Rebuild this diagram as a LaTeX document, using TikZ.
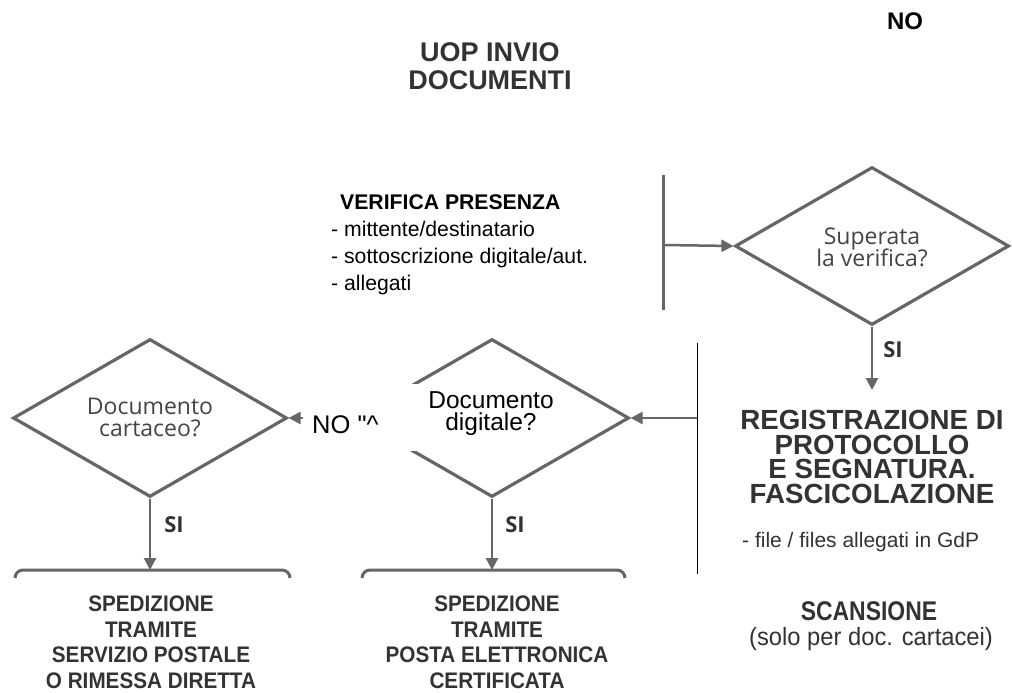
\documentclass[tikz,border=0pt]{standalone}
\usepackage{fontspec}
\setmainfont{Liberation Sans}
\newfontfamily\osans{Open Sans}
\newfontfamily\narrowsans[FakeStretch=0.92]{Liberation Sans}
\newfontfamily\scanfont[FakeStretch=0.85]{Liberation Sans}
\newfontfamily\solofont[FakeStretch=0.95]{Liberation Sans}
\newfontfamily\rawsans[Ligatures=TeXOff]{Liberation Sans}
\usetikzlibrary{shapes.geometric,arrows.meta}
\definecolor{ln}{HTML}{666666}
\definecolor{thin}{HTML}{B4B4B4}
\definecolor{dk}{HTML}{333333}
\definecolor{dtxt}{HTML}{444444}
\tikzset{
  dec/.style={diamond, draw=ln, line width=3.2pt, minimum width=274pt, minimum height=158pt,
    aspect=1.73, inner sep=0pt},
  conn/.style={draw=ln, line width=2.5pt, -{Triangle[length=12pt,width=12pt]}},
  bar/.style={draw=ln, line width=3pt},
  boxtop/.style={draw=ln, line width=3pt, rounded corners=8pt},
  silab/.style={font=\osans\bfseries\fontsize{22}{22}\selectfont, text=dk, inner sep=0pt},
  bottomtxt/.style={font=\narrowsans\bfseries\fontsize{22.5}{25.5}\selectfont, text=dk, align=center, anchor=north, inner sep=0pt},
  regline/.style={font=\bfseries\fontsize{27.7}{27.7}\selectfont, text=dk, anchor=north, inner sep=0pt},
  dtext/.style={font=\osans\fontsize{23}{21}\selectfont, text=dtxt, inner sep=0pt},
}
\begin{document}
\begin{tikzpicture}[x=1pt,y=-1pt]
\useasboundingbox (0,0) rectangle (1012,693);
\fill[white] (0,0) rectangle (1012,693);

% titles
\node[font=\bfseries\fontsize{24}{24}\selectfont, inner sep=0pt] (notop) at (905,21) {NO};
\node[font=\bfseries\fontsize{27}{28}\selectfont, text=dk, align=center, inner sep=0pt] (title) at (490,66) {UOP INVIO\\DOCUMENTI};

% verifica presenza
\node[font=\fontsize{21.2}{27}\selectfont, align=left, anchor=north west, inner sep=0pt] (verif) at (331,194)
  {{\bfseries\hspace{9pt}VERIFICA PRESENZA}\\- mittente/destinatario\\- sottoscrizione digitale/aut.\\- allegati};

% bracket
\coordinate (bt) at (663,175);
\coordinate (bb) at (663,310);
\coordinate (bm) at (663,245);
\draw[bar] (bt) -- (bb);

% diamonds
\node[dec] (q1) at (872,246) {};
\node[dec] (q2) at (150,418) {};
\node[dec] (q3) at (492,418) {};
\node[dtext, anchor=base] (q1a) at (872,244) {Superata};
\node[dtext, anchor=base] (q1b) at (872,266.5) {la verifica?};
\node[dtext, anchor=base] (q2a) at (150,414.5) {Documento};
\node[dtext, anchor=base] (q2b) at (150,436) {cartaceo?};

\draw[conn] (bm) -- (q1.west);
\coordinate (r1) at (872,390);
\draw[conn] (q1.south) -- (r1);
\node[silab] (si1) at (893,350) {SI};

% registrazione
\node[regline] (reg1) at (872,410) {REGISTRAZIONE DI};
\node[regline] (reg2) at (872,434.5) {PROTOCOLLO};
\node[regline] (reg3) at (872,459) {E SEGNATURA.};
\node[regline] (reg4) at (872,483.5) {FASCICOLAZIONE};
\node[font=\fontsize{21}{21}\selectfont, text=dk, anchor=base west, inner sep=0pt] (files) at (742,547) {- file / files allegati in GdP};

% thin vertical line and arrow to digitale
\coordinate (vt) at (697,343);
\coordinate (vb) at (697,574);
\coordinate (vm) at (697,418);
\draw[thin, line width=1pt] (vt) -- (vb);
\draw[conn] (vm) -- (q3.east);

% digitale -> cartaceo
\draw[conn] (q3.west) -- (q2.east);

% white patch with pasted text
\fill[white] (303,384) rectangle (560,451);
\node[font=\fontsize{24.5}{22}\selectfont, anchor=base, inner sep=0pt] (q3a) at (491,408) {Documento};
\node[font=\fontsize{24.5}{22}\selectfont, anchor=base, inner sep=0pt] (q3b) at (491,430) {digitale?};
\node[font=\rawsans\fontsize{25.5}{25}\selectfont, anchor=base west, inner sep=0pt] (nolab) at (312,433) {NO "\textasciicircum};

% box tops
\coordinate (b1) at (150,570);
\coordinate (b2) at (492,570);
\draw[boxtop] (15,578) -- (15,570) -- (290,570) -- (290,578);
\draw[boxtop] (362,578) -- (362,570) -- (625,570) -- (625,578);
\draw[conn] (q2.south) -- (b1);
\draw[conn] (q3.south) -- (b2);
\node[silab] (si2) at (174,525) {SI};
\node[silab] (si3) at (515,525) {SI};

% bottom texts
\node[bottomtxt] (sp1) at (151,596) {SPEDIZIONE\\TRAMITE\\SERVIZIO POSTALE\\O RIMESSA DIRETTA};
\node[bottomtxt] (sp2) at (497,596) {SPEDIZIONE\\TRAMITE\\POSTA ELETTRONICA\\CERTIFICATA};
\node[font=\scanfont\bfseries\fontsize{27}{27}\selectfont, text=dk, inner sep=0pt, anchor=base] (scan) at (869,620) {SCANSIONE};
\node[font=\solofont\fontsize{25}{25}\selectfont, text=dk, inner sep=0pt, anchor=base] (solo) at (871,645) {(solo per doc. cartacei)};
\end{tikzpicture}
\end{document}
